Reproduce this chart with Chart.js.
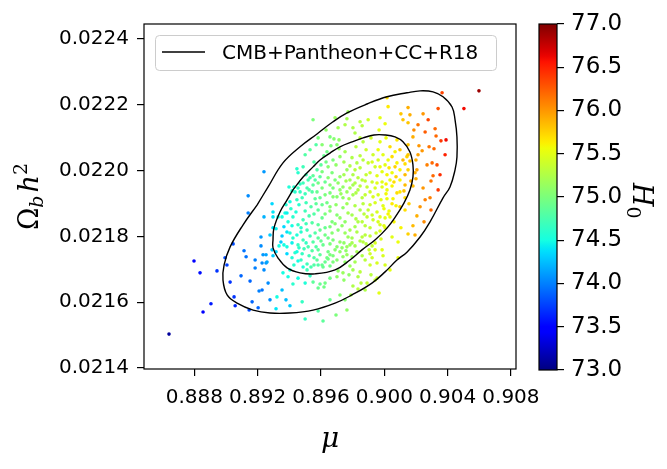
<!DOCTYPE html>
<html>
<head>
<meta charset="utf-8">
<script src="https://cdn.jsdelivr.net/npm/chart.js@4"></script>
<style>
  body { margin: 0; background: #fff; }
  #wrap { position: relative; width: 667px; height: 469px; }
  #main { position: absolute; left: 0; top: 0; }
  #cbar { position: absolute; left: 530px; top: 0; }
</style>
</head>
<body>
<div id="wrap">
  <canvas id="main" width="667" height="469"></canvas>
  <canvas id="cbar" width="137" height="469"></canvas>
</div>
<script>
// ticks
const muTicks = [0.888, 0.892, 0.896, 0.900, 0.904, 0.908];
const omTicks = [0.0214, 0.0216, 0.0218, 0.0220, 0.0222, 0.0224];
const h0Ticks = [73.0, 73.5, 74.0, 74.5, 75.0, 75.5, 76.0, 76.5, 77.0];

// contornos
const outerMu = [0.89196,0.89266,0.89360,0.89468,0.89575,0.89676,0.89765,0.89891,0.90017,0.90143,0.90226,0.90308,0.90371,0.90428,0.90447,0.90459,0.90459,0.90447,0.90415,0.90371,0.90289,0.90226,0.90143,0.90080,0.90005,0.89922,0.89796,0.89689,0.89550,0.89404,0.89278,0.89171,0.89070,0.89007,0.88981,0.88988,0.89026,0.89108,0.89196];
const outerOm = [0.021895,0.021950,0.022023,0.022072,0.022111,0.022148,0.022175,0.022202,0.022224,0.022236,0.022242,0.022239,0.022224,0.022193,0.022154,0.022102,0.022041,0.022002,0.021950,0.021917,0.021844,0.021798,0.021752,0.021728,0.021692,0.021658,0.021622,0.021597,0.021576,0.021567,0.021567,0.021576,0.021597,0.021622,0.021667,0.021713,0.021768,0.021835,0.021895];
const innerMu = [0.89423,0.89487,0.89550,0.89594,0.89657,0.89720,0.89796,0.89866,0.89935,0.90005,0.90068,0.90118,0.90162,0.90181,0.90181,0.90162,0.90124,0.90074,0.90017,0.89941,0.89859,0.89783,0.89689,0.89562,0.89468,0.89386,0.89329,0.89297,0.89297,0.89303,0.89341,0.89386,0.89423];
const innerOm = [0.021941,0.021980,0.022011,0.022032,0.022053,0.022072,0.022087,0.022099,0.022108,0.022108,0.022102,0.022087,0.022056,0.022017,0.021980,0.021941,0.021901,0.021862,0.021825,0.021789,0.021759,0.021728,0.021698,0.021686,0.021689,0.021704,0.021734,0.021765,0.021789,0.021825,0.021874,0.021911,0.021941];

// amostras: mu, Omega_b h^2, H0
const muVals = [
0.88640,0.88798,0.88836,0.88855,0.88905,0.88943,0.88994,0.89006,0.89026,0.89045,0.89051,0.89058,0.89095,0.89114,0.89127,0.89140,0.89140,0.89146,0.89152,0.89165,
0.89184,0.89184,0.89203,0.89209,0.89221,0.89221,0.89228,0.89240,0.89240,0.89240,0.89253,0.89253,0.89278,0.89291,0.89297,0.89297,0.89297,0.89316,0.89291,0.89297,
0.89234,0.89316,0.89335,0.89329,0.89322,0.89316,0.89259,0.89379,0.89373,0.89410,0.89417,0.89429,0.89455,0.89448,0.89487,0.89398,0.89487,0.89519,0.89556,0.89366,
0.89385,0.89417,0.89461,0.89481,0.89360,0.89392,0.89404,0.89429,0.89474,0.89512,0.89512,0.89537,0.89556,0.89556,0.89544,0.89493,0.89613,0.89626,0.89645,0.89657,
0.89689,0.89720,0.89733,0.89739,0.89764,0.89701,0.89783,0.89815,0.89904,0.89910,0.89942,0.89910,0.89954,0.89802,0.89847,0.89708,0.89701,0.89626,0.89594,0.89619,
0.89550,0.89582,0.89423,0.89481,0.89500,0.89613,0.89582,0.89695,0.89764,0.89967,0.89789,0.89834,0.89853,0.89802,0.90087,0.90049,0.90087,0.90105,0.89979,0.89973,
0.89455,0.89436,0.89448,0.89481,0.89500,0.89544,0.89563,0.89594,0.89607,0.89582,0.89638,0.89657,0.89676,0.89701,0.89720,0.89739,0.89764,0.89783,0.89802,0.89834,
0.89860,0.89891,0.89910,0.89942,0.89961,0.89986,0.89354,0.89392,0.89423,0.89455,0.89487,0.89512,0.89544,0.89563,0.89607,0.89626,0.89645,0.89670,0.89701,0.89708,
0.89739,0.89752,0.89771,0.89796,0.89815,0.89847,0.89860,0.89891,0.89910,0.89929,0.89954,0.89979,0.89973,0.89404,0.89423,0.89455,0.89436,0.89487,0.89519,0.89550,
0.89582,0.89613,0.89645,0.89676,0.89720,0.89764,0.89796,0.89827,0.89866,0.89879,0.89942,0.89923,0.89986,0.89575,0.89607,0.89676,0.89739,0.89834,0.89891,0.89657,
0.89682,0.89714,0.89569,0.89663,0.89701,0.89815,0.89847,0.89866,0.89916,0.89973,0.90011,0.90080,0.90150,0.89638,0.89619,0.89714,0.89720,0.89676,0.89632,0.89600,
0.89575,0.89531,0.89563,0.89594,0.89626,0.89670,0.89689,0.89720,0.89764,0.89783,0.89827,0.89847,0.89847,0.89866,0.89885,0.89898,0.89910,0.89929,0.89942,0.89961,
0.89986,0.89992,0.90005,0.90024,0.90049,0.90068,0.90080,0.90099,0.90099,0.90036,0.89986,0.89923,0.89860,0.89802,0.89739,0.90143,0.90150,0.89550,0.89771,0.89764,
0.89847,0.89860,0.89898,0.89802,0.90017,0.90024,0.89973,0.90005,0.89967,0.90105,0.90150,0.90162,0.90118,0.90245,0.90340,0.90365,0.90321,0.90503,0.90598,0.90150,
0.90327,0.90358,0.90181,0.90219,0.90283,0.90314,0.90239,0.90384,0.90213,0.90150,0.90200,0.90162,0.90131,0.90302,0.90333,0.90270,0.90206,0.90194,0.90308,0.90200,
0.90295,0.90181,0.90245,0.90017,0.90049,0.90099,0.90289,0.90295,0.90206,0.90181,0.90150,0.90131,0.90156,0.90131,0.90017,0.90055,0.90074,0.90030,0.90036,0.89992,
0.90005,0.89998,0.90061,
// parte densa do centro
0.89752,0.89796,0.89885,0.89961,0.90036,0.90099,0.90049,0.89821,
0.89645,0.89695,0.89745,0.89783,0.89815,0.89923,0.89973,0.90030,0.90118,0.90068,
0.89506,0.89550,0.89607,0.89645,0.89745,0.89802,0.89834,0.89954,0.90017,0.90074,0.90131,
0.89468,0.89512,0.89550,0.89582,0.89607,0.89657,0.89708,0.89758,0.89815,0.89847,0.89879,0.89954,0.90011,0.90061,0.90131,0.90168,
0.89468,0.89525,0.89575,0.89626,0.89676,0.89726,0.89777,0.89821,0.89879,0.89929,0.90011,0.90080,0.90124,
0.89404,0.89461,0.89506,0.89537,0.89569,0.89657,0.89695,0.89764,0.89815,0.89866,0.89898,0.89942,0.89998,0.90049,0.90099,
0.89385,0.89442,0.89500,0.89525,0.89556,0.89626,0.89657,0.89720,0.89771,0.89821,0.89872,0.89923,0.89973,0.90024,
0.89366,0.89417,0.89474,0.89506,0.89582,0.89594,0.89657,0.89689,0.89733,0.89783,0.89834,0.89879,0.89910,0.89961,0.90005,
0.89354,0.89385,0.89448,0.89474,0.89531,0.89582,0.89626,0.89670,0.89752,0.89796,0.89827,0.89860,0.89910,0.89948,
0.89347,0.89417,0.89506,0.89569,0.89600,0.89657,0.89701,0.89745,0.89815,0.89847,0.89885,0.89923,
0.89385,0.89448,0.89525,0.89594,0.89638,0.89676,0.89758,0.89796,0.89860,0.89992,
0.89455,0.89487,0.89582,0.89657,0.89752,0.89783,0.89879,
0.89455,0.89500,0.89531,0.89657,0.89745,0.89777,0.89916,0.89954,
0.89500,0.89531,0.89607,0.89582,0.89632,0.89708,0.89752,0.89689,
0.90213,0.90258,0.90277,0.90187,0.90390,0.90352,0.90340,0.90258,0.90226,0.90251,0.90194,
0.90005,0.90036,0.89942,0.89879,0.89720,0.89657,0.89752,
0.89228,0.89266,0.89354,0.89379,0.89278,0.89404
];
const omVals = [
0.021503,0.021725,0.021689,0.021570,0.021595,0.021695,0.021735,0.021713,0.021661,0.021777,0.021616,0.021589,0.021680,0.021756,0.021738,0.021923,0.021871,0.021576,0.021664,0.021601,
0.021728,0.021704,0.021583,0.021634,0.021798,0.021771,0.021719,0.021996,0.021859,0.021698,0.021719,0.021744,0.021804,0.021899,0.021874,0.021859,0.021826,0.021823,0.021759,0.021741,
0.021744,0.021753,0.021771,0.021859,0.021616,0.021580,0.021722,0.021896,0.021871,0.021884,0.021938,0.021950,0.021993,0.022005,0.022011,0.021950,0.021962,0.021971,0.022026,0.021774,
0.021768,0.021735,0.021765,0.021747,0.021689,0.021677,0.021698,0.021713,0.021728,0.021716,0.021698,0.021707,0.021713,0.021735,0.021756,0.021762,0.021707,0.021722,0.021731,0.021744,
0.021759,0.021753,0.021765,0.021738,0.021744,0.021728,0.021774,0.021722,0.021759,0.021747,0.021759,0.021713,0.021719,0.021698,0.021692,0.021695,0.021677,0.021658,0.021655,0.021646,
0.021661,0.021643,0.021655,0.021601,0.021549,0.021543,0.021573,0.021561,0.021576,0.021628,0.021622,0.021640,0.021658,0.021649,0.021735,0.021798,0.021783,0.021826,0.021792,0.021816,
0.021947,0.021935,0.021911,0.021917,0.021929,0.021935,0.021914,0.021917,0.021896,0.021880,0.021902,0.021932,0.021947,0.021920,0.021941,0.021917,0.021935,0.021947,0.021926,0.021941,
0.021917,0.021950,0.021935,0.021947,0.021926,0.021950,0.021859,0.021844,0.021859,0.021835,0.021850,0.021819,0.021841,0.021810,0.021856,0.021826,0.021795,0.021844,0.021865,0.021819,
0.021887,0.021844,0.021798,0.021865,0.021829,0.021880,0.021844,0.021859,0.021896,0.021850,0.021874,0.021911,0.021835,0.021810,0.021795,0.021774,0.021750,0.021789,0.021768,0.021783,
0.021759,0.021774,0.021753,0.021789,0.021783,0.021768,0.021780,0.021753,0.021783,0.021804,0.021780,0.021735,0.021759,0.021728,0.021713,0.021722,0.021689,0.021677,0.021658,0.022102,
0.022096,0.022093,0.022078,0.022075,0.022078,0.022114,0.022099,0.022087,0.022099,0.022087,0.022099,0.022093,0.022078,0.022057,0.022045,0.022066,0.022042,0.022032,0.022026,0.022017,
0.022002,0.021978,0.021971,0.021981,0.021965,0.021993,0.021971,0.021981,0.022002,0.021971,0.022023,0.022045,0.022008,0.022032,0.021987,0.022023,0.021993,0.022048,0.022011,0.022032,
0.021996,0.022048,0.022017,0.022032,0.021993,0.022057,0.022023,0.022002,0.021971,0.021971,0.021965,0.021965,0.021971,0.021956,0.021950,0.022042,0.022002,0.022154,0.022178,0.022157,
0.022148,0.022136,0.022154,0.022130,0.022221,0.022194,0.022160,0.022142,0.022123,0.022172,0.022191,0.022169,0.022154,0.022172,0.022188,0.022236,0.022127,0.022188,0.022242,0.022145,
0.022105,0.022090,0.022102,0.022075,0.022072,0.022066,0.022060,0.022048,0.022048,0.022048,0.022032,0.022029,0.022020,0.022023,0.022017,0.022017,0.022002,0.021993,0.021984,0.021975,
0.021968,0.021953,0.021947,0.021941,0.021953,0.021935,0.021917,0.021880,0.021862,0.021832,0.021807,0.021917,0.021899,0.021880,0.021914,0.021914,0.021893,0.021877,0.021859,0.021893,
0.021856,0.021832,0.021844,
0.022057,0.022039,0.022063,0.022063,0.022072,0.022063,0.022042,0.022072,
0.022011,0.022017,0.022026,0.022014,0.022002,0.022026,0.022011,0.022008,0.022032,0.022011,
0.021987,0.021984,0.021996,0.021978,0.021987,0.021987,0.021978,0.021984,0.021987,0.021981,0.021987,
0.021959,0.021947,0.021956,0.021962,0.021947,0.021956,0.021962,0.021968,0.021962,0.021953,0.021968,0.021962,0.021959,0.021965,0.021956,0.021968,
0.021935,0.021941,0.021935,0.021926,0.021920,0.021929,0.021914,0.021932,0.021926,0.021920,0.021929,0.021932,0.021938,
0.021905,0.021896,0.021902,0.021890,0.021899,0.021890,0.021896,0.021899,0.021893,0.021899,0.021880,0.021902,0.021884,0.021899,0.021890,
0.021871,0.021874,0.021877,0.021862,0.021868,0.021868,0.021877,0.021856,0.021871,0.021853,0.021868,0.021865,0.021859,0.021868,
0.021829,0.021832,0.021826,0.021838,0.021835,0.021819,0.021829,0.021838,0.021832,0.021819,0.021844,0.021832,0.021826,0.021844,0.021826,
0.021801,0.021813,0.021804,0.021813,0.021801,0.021795,0.021804,0.021810,0.021810,0.021795,0.021813,0.021798,0.021801,0.021810,
0.021783,0.021780,0.021780,0.021768,0.021786,0.021777,0.021768,0.021780,0.021771,0.021786,0.021777,0.021771,
0.021747,0.021753,0.021741,0.021744,0.021735,0.021741,0.021756,0.021738,0.021741,0.021741,
0.021725,0.021707,0.021713,0.021710,0.021722,0.021710,0.021728,
0.021673,0.021658,0.021680,0.021673,0.021667,0.021683,0.021683,0.021673,
0.022048,0.022063,0.022078,0.022099,0.022123,0.022130,0.022139,0.022160,
0.022139,0.022117,0.022154,0.022123,0.022093,0.021987,0.021941,0.021911,0.021890,0.021844,0.021804,
0.021713,0.021698,0.021667,0.021637,0.021622,0.021607,0.021607,
0.021637,0.021658,0.021637,0.021607,0.021607,0.021589
];
const h0Vals = [
73.1,73.5,73.55,73.5,73.6,73.7,73.8,73.75,73.7,73.8,73.7,73.65,73.9,73.95,73.95,74.05,74.0,73.8,73.9,73.9,
74.0,74.0,73.9,74.0,74.1,74.05,74.05,74.1,74.2,74.05,74.1,74.15,74.3,74.35,74.4,74.4,74.4,74.45,74.3,74.3,
74.1,74.35,74.5,74.5,74.5,74.4,74.15,74.55,74.5,74.6,74.6,74.6,74.6,74.6,74.7,74.55,74.7,74.75,74.8,74.5,
74.5,74.55,74.6,74.65,74.5,74.5,74.55,74.6,74.65,74.7,74.7,74.75,74.8,74.8,74.8,74.7,74.9,74.9,74.95,75.0,
75.05,75.1,75.1,75.1,75.15,75.05,75.15,75.2,75.35,75.4,75.45,75.4,75.45,75.2,75.3,75.1,75.1,74.95,74.9,74.95,
74.85,74.9,74.6,74.65,74.65,74.85,74.8,75.0,75.1,75.5,75.2,75.3,75.3,75.25,75.55,75.5,75.55,75.6,75.45,75.45,
74.65,74.6,74.65,74.7,74.7,74.8,74.85,74.9,74.9,74.85,74.95,75.0,75.0,75.05,75.1,75.1,75.15,75.2,75.2,75.25,
75.3,75.35,75.4,75.45,75.45,75.5,74.5,74.55,74.6,74.65,74.7,74.7,74.8,74.8,74.9,74.9,74.95,75.0,75.05,75.05,
75.1,75.1,75.15,75.2,75.2,75.25,75.3,75.35,75.4,75.4,75.45,75.5,75.45,74.55,74.6,74.65,74.6,74.7,74.75,74.8,
74.85,74.9,74.95,75.0,75.1,75.15,75.2,75.2,75.3,75.3,75.45,75.4,75.5,74.85,74.9,75.0,75.15,75.25,75.35,75.0,
75.05,75.1,74.8,75.0,75.05,75.25,75.3,75.3,75.4,75.5,75.55,75.65,75.8,74.95,74.9,75.1,75.1,75.0,74.95,74.85,
74.8,74.75,74.8,74.85,74.9,75.0,75.0,75.1,75.15,75.2,75.25,75.3,75.3,75.3,75.35,75.35,75.4,75.4,75.4,75.45,
75.5,75.5,75.5,75.55,75.55,75.6,75.6,75.6,75.6,75.55,75.5,75.4,75.3,75.2,75.1,75.75,75.75,75.0,75.15,75.2,
75.3,75.3,75.4,75.25,75.7,75.65,75.5,75.55,75.5,75.8,75.9,75.9,75.8,76.0,76.3,76.35,76.2,76.6,76.9,75.8,
76.2,76.4,75.9,76.0,76.15,76.2,76.0,76.5,75.95,75.8,75.9,75.8,75.7,76.2,76.3,76.1,75.95,75.9,76.2,75.9,
76.15,75.85,76.0,75.55,75.6,75.65,76.1,76.2,75.9,75.85,75.75,75.7,75.75,75.7,75.55,75.6,75.6,75.55,75.55,75.5,
75.5,75.5,75.6,
75.2,75.25,75.4,75.55,75.7,75.8,75.7,75.3,
75.05,75.1,75.2,75.25,75.3,75.45,75.55,75.65,75.85,75.75,
74.7,74.85,75.0,75.05,75.2,75.25,75.3,75.5,75.6,75.75,75.85,
74.65,74.75,74.85,74.95,75.0,75.05,75.1,75.2,75.25,75.3,75.35,75.5,75.6,75.7,75.85,75.9,
74.65,74.8,74.9,75.0,75.05,75.15,75.2,75.25,75.35,75.45,75.58,75.7,75.8,
74.5,74.6,74.7,74.8,74.85,75.05,75.1,75.18,75.25,75.3,75.35,75.45,75.55,75.65,75.75,
74.45,74.55,74.7,74.75,74.8,75.0,75.05,75.1,75.2,75.25,75.3,75.4,75.5,75.6,
74.35,74.5,74.6,74.7,74.85,74.9,75.0,75.05,75.1,75.2,75.25,75.3,75.35,75.45,75.5,
74.3,74.4,74.55,74.6,74.7,74.85,74.95,75.05,75.15,75.2,75.25,75.3,75.35,75.4,
74.3,74.45,74.65,74.8,74.9,75.0,75.05,75.1,75.2,75.25,75.3,75.35,
74.35,74.5,74.7,74.85,74.95,75.0,75.1,75.15,75.25,75.45,
74.5,74.55,74.8,74.95,75.1,75.15,75.3,
74.5,74.55,74.65,74.95,75.1,75.1,75.3,75.4,
74.8,74.85,75.05,75.0,75.1,75.2,75.25,75.15,
76.15,76.25,76.35,76.05,76.6,76.45,76.4,76.1,76.0,76.05,75.9,
75.45,75.5,75.35,75.25,75.05,74.9,75.05,
73.95,74.05,74.25,74.25,74.05,74.3
];

const H0_MIN = 73, H0_MAX = 77;

// colormap jet do matplotlib
function interp(t, pts) {
    for (let i = 1; i < pts.length; i++) {
        if (t <= pts[i][0]) {
            let a = pts[i - 1], b = pts[i];
            return a[1] + (b[1] - a[1]) * (t - a[0]) / (b[0] - a[0]);
        }
    }
    return pts[pts.length - 1][1];
}
function jet(v) {
    let t = Math.min(1, Math.max(0, (v - H0_MIN) / (H0_MAX - H0_MIN)));
    let r = interp(t, [[0, 0], [0.35, 0], [0.66, 1], [0.89, 1], [1, 0.5]]);
    let g = interp(t, [[0, 0], [0.125, 0], [0.375, 1], [0.64, 1], [0.91, 0], [1, 0]]);
    let b = interp(t, [[0, 0.5], [0.11, 1], [0.34, 1], [0.65, 0], [1, 0]]);
    return 'rgb(' + Math.round(r * 255) + ',' + Math.round(g * 255) + ',' + Math.round(b * 255) + ')';
}

Chart.defaults.font.family = '"DejaVu Sans"';
Chart.defaults.color = '#000';

const toXY = (xs, ys) => xs.map((x, i) => ({ x: x, y: ys[i] }));

// moldura + legenda + rotulo do eixo y
const framePlugin = {
    id: 'frame',
    afterDraw(chart) {
        const c = chart.ctx, a = chart.chartArea;
        c.save();
        c.strokeStyle = '#000';
        c.lineWidth = 1.2;
        c.strokeRect(a.left, a.top, a.right - a.left, a.bottom - a.top);
        c.restore();
    }
};

const legendPlugin = {
    id: 'legendBox',
    afterDraw(chart) {
        const c = chart.ctx;
        const label = chart.data.datasets[0].label;
        c.save();
        c.fillStyle = 'rgba(255,255,255,0.8)';
        c.strokeStyle = '#cccccc';
        c.lineWidth = 1;
        c.beginPath();
        c.roundRect(155.5, 35.5, 341, 35, 4);
        c.fill();
        c.stroke();
        c.strokeStyle = '#000';
        c.lineWidth = 1.4;
        c.beginPath();
        c.moveTo(162, 52);
        c.lineTo(205, 52);
        c.stroke();
        c.fillStyle = '#000';
        c.font = '20px "DejaVu Sans"';
        c.textBaseline = 'alphabetic';
        c.fillText(label, 222, 59);
        c.restore();
    }
};

const yTitlePlugin = {
    id: 'yTitle',
    afterDraw(chart) {
        const c = chart.ctx;
        const big = 27, small = 19;
        const parts = [
            { t: 'Ω', f: big + 'px "DejaVu Serif"', dy: 0 },
            { t: 'b', f: 'italic ' + small + 'px "DejaVu Serif"', dy: 5 },
            { t: 'h', f: 'italic ' + big + 'px "DejaVu Serif"', dy: 0, gap: 3 },
            { t: '2', f: small + 'px "DejaVu Serif"', dy: -11 }
        ];
        c.save();
        let total = 0;
        parts.forEach(p => { c.font = p.f; p.w = c.measureText(p.t).width; total += p.w + (p.gap || 0); });
        c.translate(38, (chart.chartArea.top + chart.chartArea.bottom) / 2);
        c.rotate(-Math.PI / 2);
        c.fillStyle = '#000';
        c.textBaseline = 'alphabetic';
        let x = -total / 2;
        parts.forEach(p => { x += (p.gap || 0); c.font = p.f; c.fillText(p.t, x, p.dy); x += p.w; });
        c.restore();
    }
};

new Chart(document.getElementById('main'), {
    type: 'scatter',
    data: {
        datasets: [
            {
                label: 'CMB+Pantheon+CC+R18',
                data: toXY(outerMu, outerOm),
                showLine: true, tension: 0.4, fill: false,
                borderColor: '#000', borderWidth: 1.4, pointRadius: 0
            },
            {
                label: 'CMB+Pantheon+CC+R18',
                data: toXY(innerMu, innerOm),
                showLine: true, tension: 0.4, fill: false,
                borderColor: '#000', borderWidth: 1.4, pointRadius: 0
            },
            {
                label: 'H0',
                data: toXY(muVals, omVals),
                pointRadius: 1.8,
                pointBorderWidth: 0,
                pointBackgroundColor: h0Vals.map(jet)
            }
        ]
    },
    options: {
        responsive: false,
        animation: false,
        devicePixelRatio: 1,
        layout: { padding: { left: 0, right: 151, top: 24, bottom: 0 } },
        plugins: { legend: { display: false }, tooltip: { enabled: false } },
        scales: {
            x: {
                type: 'linear',
                min: 0.88482, max: 0.90832,
                afterBuildTicks: s => { s.ticks = muTicks.map(v => ({ value: v })); },
                afterFit: s => { s.height = 100; },
                ticks: {
                    autoSkip: false, maxRotation: 0, padding: 10,
                    font: { size: 20 },
                    callback: v => v.toFixed(3)
                },
                grid: { drawOnChartArea: false, drawTicks: true, tickLength: 7, color: '#000', lineWidth: 1.2 },
                border: { display: false },
                title: {
                    display: true, text: 'μ',
                    font: { family: '"DejaVu Serif"', style: 'italic', size: 28 },
                    padding: { top: 0, bottom: 12 }
                }
            },
            y: {
                type: 'linear',
                min: 0.021397, max: 0.022445,
                afterBuildTicks: s => { s.ticks = omTicks.map(v => ({ value: v })); },
                afterFit: s => { s.width = 144; },
                ticks: {
                    padding: 8,
                    font: { size: 20 },
                    callback: v => v.toFixed(4)
                },
                grid: { drawOnChartArea: false, drawTicks: true, tickLength: 7, color: '#000', lineWidth: 1.2 },
                border: { display: false }
            }
        }
    },
    plugins: [framePlugin, legendPlugin, yTitlePlugin]
});

// barra de cores
const cbTitlePlugin = {
    id: 'cbTitle',
    afterDraw(chart) {
        const c = chart.ctx;
        c.save();
        c.translate(103, 183);
        c.rotate(Math.PI / 2);
        c.fillStyle = '#000';
        c.textBaseline = 'alphabetic';
        c.font = 'italic 27px "DejaVu Serif"';
        c.fillText('H', 0, 0);
        let w = c.measureText('H').width;
        c.font = '19px "DejaVu Serif"';
        c.fillText('0', w, 6);
        c.restore();
    }
};

new Chart(document.getElementById('cbar'), {
    type: 'bar',
    data: {
        labels: ['H0'],
        datasets: [{
            data: [[H0_MIN, H0_MAX]],
            barPercentage: 1, categoryPercentage: 1, borderWidth: 0,
            backgroundColor: ctx => {
                const a = ctx.chart.chartArea;
                if (!a) return '#000';
                const g = ctx.chart.ctx.createLinearGradient(0, a.bottom, 0, a.top);
                for (let i = 0; i <= 64; i++) g.addColorStop(i / 64, jet(H0_MIN + (H0_MAX - H0_MIN) * i / 64));
                return g;
            }
        }]
    },
    options: {
        responsive: false,
        animation: false,
        devicePixelRatio: 1,
        layout: { padding: { left: 9, right: 0, top: 24, bottom: 99 } },
        plugins: { legend: { display: false }, tooltip: { enabled: false } },
        scales: {
            x: { display: false },
            y: {
                position: 'right',
                min: H0_MIN, max: H0_MAX,
                afterBuildTicks: s => { s.ticks = h0Ticks.map(v => ({ value: v })); },
                afterFit: s => { s.width = 110; },
                ticks: { padding: 7, font: { size: 23 }, callback: v => v.toFixed(1) },
                grid: { drawOnChartArea: false, drawTicks: true, tickLength: 7, color: '#000', lineWidth: 1.2 },
                border: { display: false }
            }
        }
    },
    plugins: [framePlugin, cbTitlePlugin]
});
</script>
</body>
</html>
